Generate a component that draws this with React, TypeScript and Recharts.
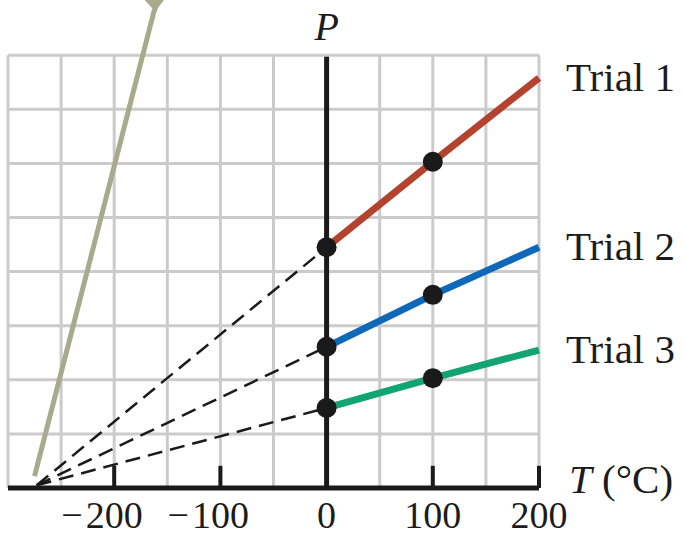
import React from 'react';
import { LineChart, Line, XAxis, YAxis, LabelList } from 'recharts';

// Data
const temps = [0, 100, 200];
const trial1 = [4.45, 6.03, 7.58];
const trial2 = [2.61, 3.57, 4.45];
const trial3 = [1.48, 2.03, 2.55];
const trialNames = ['Trial 1', 'Trial 2', 'Trial 3'];
const trialColors = ['#b3432e', '#1068b9', '#12a472'];
const absoluteZero = -273;
const gasLineT = [-275, -162];
const gasLineP = [0.22, 8.85];
const xTicks = [-200, -100, 0, 100, 200];
const gridX = [-300, -250, -200, -150, -100, -50, 0, 50, 100, 150, 200];
const gridY = [1, 2, 3, 4, 5, 6, 7, 8];
const pAxisTop = 7.97;
const tickMarks = [-200, -100, 100, 200];
const tickMarkHeight = 0.41;

const SERIF = '"Liberation Serif", "Times New Roman", serif';

const trials = [trial1, trial2, trial3].map((vals) =>
  temps.map((t, i) => ({ t, p: vals[i] }))
);
const dashed = [trial1, trial2, trial3].map((vals) => [
  { t: absoluteZero, p: 0.05 },
  { t: 0, p: vals[0] },
]);
const gasLine = gasLineT.map((t, i) => ({ t, p: gasLineP[i] }));
const vGrid = gridX.map((x) => [
  { t: x, p: 0 },
  { t: x, p: 8 },
]);
const hGrid = gridY.map((y) => [
  { t: -300, p: y },
  { t: 200, p: y },
]);
const pAxis = [
  { t: 0, p: 0 },
  { t: 0, p: pAxisTop },
];
const ticksData = tickMarks.map((x) => [
  { t: x, p: 0 },
  { t: x, p: tickMarkHeight },
]);

const XTick = (props: any) => {
  const { x, y, payload } = props;
  const v = payload.value as number;
  const digits = String(Math.abs(v));
  const fs = 38;
  const half = (digits.length * fs * 0.5) / 2;
  return (
    <g>
      <text x={x} y={y + 32} textAnchor="middle" fontFamily={SERIF} fontSize={fs} fill="#1c1c1c">
        {digits}
      </text>
      {v < 0 && (
        <text x={x - half - 3} y={y + 32} textAnchor="end" fontFamily={SERIF} fontSize={fs} fill="#1c1c1c">
          {'\u2212'}
        </text>
      )}
    </g>
  );
};

const TLabel = (props: any) => {
  const vb = props.viewBox || {};
  return (
    <text
      x={vb.x + vb.width + 30}
      y={vb.y + 5}
      fontFamily={SERIF}
      fontSize={41}
      fill="#1c1c1c"
    >
      <tspan fontStyle="italic">T</tspan>
      <tspan> (°C)</tspan>
    </text>
  );
};

const trialDot = (props: any) => {
  const { cx, cy, payload, index } = props;
  if (payload.t >= 200) return <g key={`d${index}`} />;
  return <circle key={`d${index}`} cx={cx} cy={cy} r={10} fill="#1a1a1a" />;
};

const arrowDot = (props: any) => {
  const { cx, cy, index } = props;
  if (index !== 1) return <g key={`a${index}`} />;
  return (
    <path
      key={`a${index}`}
      d={`M ${cx - 13} ${cy - 12} Q ${cx} ${cy - 8} ${cx + 12} ${cy - 12} Q ${cx + 4} ${cy - 4} ${cx + 1} ${cy + 4} Q ${cx - 4} ${cy - 4} ${cx - 13} ${cy - 12} Z`}
      fill="#a9a98b"
    />
  );
};

const makeTrialLabel = (name: string) => (props: any) => {
  const { x, y, index } = props;
  if (index !== 2) return null;
  return (
    <text x={x + 27} y={y} dy={13} fontFamily={SERIF} fontSize={41} fill="#1c1c1c">
      {name}
    </text>
  );
};

const PLabel = (props: any) => {
  const { x, y, index } = props;
  if (index !== 1) return null;
  return (
    <text x={x} y={y - 17} textAnchor="middle" fontFamily={SERIF} fontStyle="italic" fontSize={40} fill="#1c1c1c">
      P
    </text>
  );
};

export default function App() {
  return (
    <div style={{ position: 'absolute', left: 0, top: 0, background: '#fff' }}>
      <LineChart
        width={684}
        height={537}
        margin={{ top: 0, right: 145, bottom: 0, left: 8 }}
      >
        <XAxis
          dataKey="t"
          type="number"
          domain={[-300, 200]}
          ticks={xTicks}
          allowDuplicatedCategory={false}
          height={49}
          axisLine={{ stroke: '#1a1a1a', strokeWidth: 5 }}
          tickLine={false}
          tick={<XTick />}
          interval={0}
          label={<TLabel />}
        />
        <YAxis type="number" dataKey="p" domain={[0, 9.02]} hide />
        {vGrid.map((d, i) => (
          <Line key={`vg${i}`} data={d} dataKey="p" stroke="#cbcbcb" strokeWidth={3} dot={false} activeDot={false} isAnimationActive={false} />
        ))}
        {hGrid.map((d, i) => (
          <Line key={`hg${i}`} data={d} dataKey="p" stroke="#cbcbcb" strokeWidth={3} dot={false} activeDot={false} isAnimationActive={false} />
        ))}
        {ticksData.map((d, i) => (
          <Line key={`tk${i}`} data={d} dataKey="p" stroke="#1a1a1a" strokeWidth={4} dot={false} activeDot={false} isAnimationActive={false} />
        ))}
        <Line data={gasLine} dataKey="p" stroke="#a9a98b" strokeWidth={5} dot={arrowDot} activeDot={false} isAnimationActive={false} />
        {dashed.map((d, i) => (
          <Line key={`ds${i}`} data={d} dataKey="p" stroke="#1a1a1a" strokeWidth={2.5} strokeDasharray="15 8" dot={false} activeDot={false} isAnimationActive={false} />
        ))}
        <Line data={pAxis} dataKey="p" stroke="#1a1a1a" strokeWidth={5} dot={false} activeDot={false} isAnimationActive={false}>
          <LabelList dataKey="p" content={<PLabel />} />
        </Line>
        {trials.map((d, i) => (
          <Line key={`tr${i}`} data={d} dataKey="p" stroke={trialColors[i]} strokeWidth={7} dot={trialDot} activeDot={false} isAnimationActive={false}>
            <LabelList dataKey="p" content={makeTrialLabel(trialNames[i])} />
          </Line>
        ))}
      </LineChart>
    </div>
  );
}
